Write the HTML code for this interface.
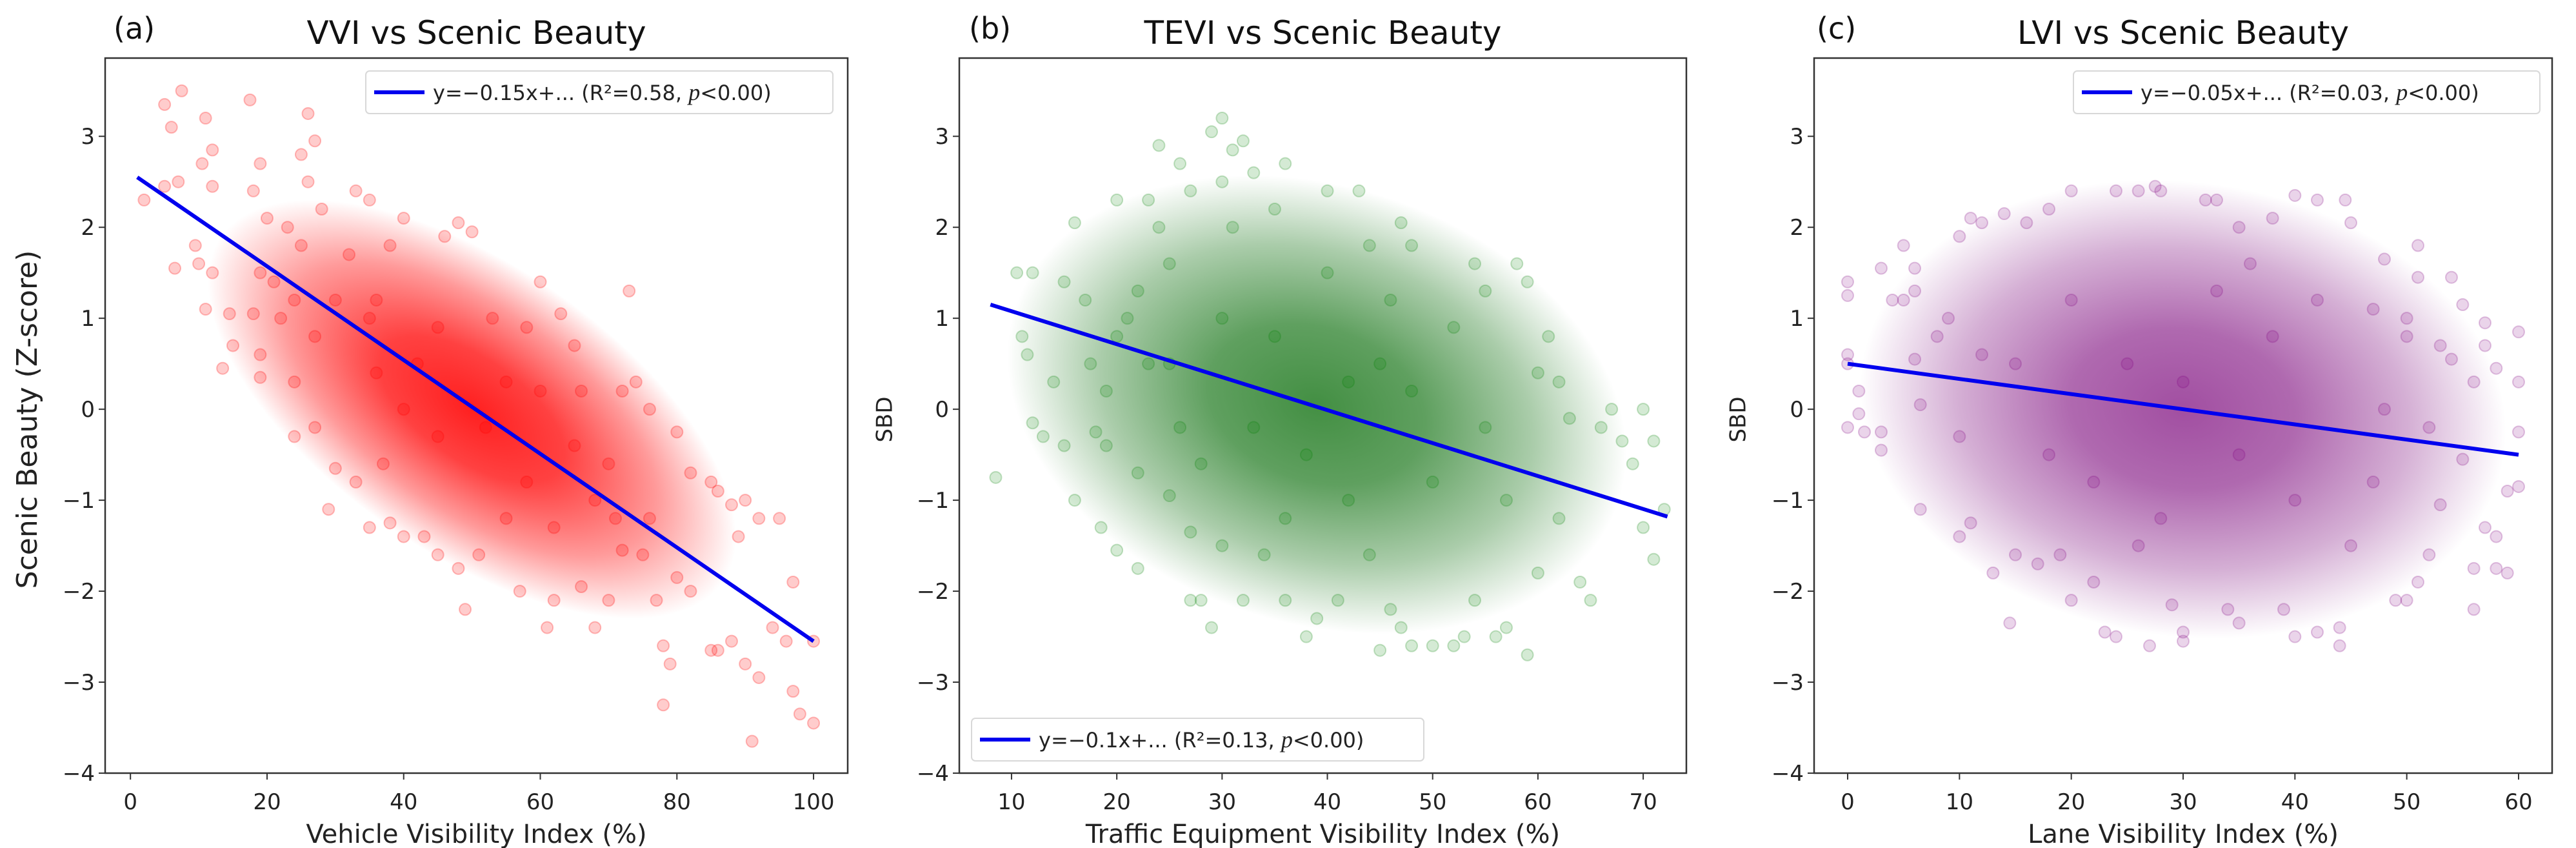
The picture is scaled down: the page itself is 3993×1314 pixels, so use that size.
<!DOCTYPE html>
<html><head><meta charset="utf-8"><style>
body{margin:0;background:#fff;}
svg{display:block;font-family:"DejaVu Sans","Liberation Sans",sans-serif;}
</style></head><body>
<svg id="fig" width="3993" height="1314" viewBox="0 0 3993 1314" xmlns="http://www.w3.org/2000/svg"></svg>
<script>
// ---- data ----
const aX=[2,5,6,7.5,11,12,10.5,5,7,12,6.5,9.5,10,11,12,13.5,14.5,15,17.5,18,19,20,19,18,19,19,21,22,24,25,26,26,27,28,25,23,24,27,24,27,30,29,32,33,35,36,33,35,37,38,40,43,45,49,48,51,50,48,46,40,38,60,63,65,61,62,57,66,73,74,72,76,80,82,85,86,88,90,89,92,95,97,94,96,100,97,98,100,91,78,79,90,92,85,86,88,78,77,80,82,75,72,70,68,55,58,45,42,55,52,35,30,65,68,70,60,40,45,36,62,53,58,66,71,76];
const aY=[2.3,3.35,3.1,3.5,3.2,2.85,2.7,2.45,2.5,2.45,1.55,1.8,1.6,1.1,1.5,0.45,1.05,0.7,3.4,2.4,2.7,2.1,1.5,1.05,0.6,0.35,1.4,1.0,0.3,2.8,3.25,2.5,2.95,2.2,1.8,2.0,1.2,0.8,-0.3,-0.2,-0.65,-1.1,1.7,2.4,2.3,1.2,-0.8,-1.3,-0.6,-1.25,-1.4,-1.4,-1.6,-2.2,-1.75,-1.6,1.95,2.05,1.9,2.1,1.8,1.4,1.05,0.7,-2.4,-2.1,-2.0,-1.95,1.3,0.3,0.2,0.0,-0.25,-0.7,-0.8,-0.9,-1.05,-1.0,-1.4,-1.2,-1.2,-1.9,-2.4,-2.55,-2.55,-3.1,-3.35,-3.45,-3.65,-3.25,-2.8,-2.8,-2.95,-2.65,-2.65,-2.55,-2.6,-2.1,-1.85,-2.0,-1.6,-1.55,-2.1,-2.4,-1.2,-0.8,0.9,0.5,0.3,-0.2,1.0,1.2,-0.4,-1.0,-0.6,0.2,0.0,-0.3,0.4,-1.3,1.0,0.9,0.2,-1.2,-1.2];
const bX=[8.5,10.5,11,11.5,12,13,12,14,15,15,16,16,17,17.5,18,19,18.5,20,20,21,22,22,23,23,24,24,25,25,26,27,27,28,27,29,30,30,31,32,31,29,32,30,33,36,35,34,36,38,39,40,41,43,44,45,46,47,47,48,48,50,52,53,54,54,55,56,57,59,58,59,61,62,63,64,65,66,67,68,70,71,71,72,70,69,60,62,42,40,35,45,38,50,55,25,28,33,44,48,52,57,60,20,22,19,26,30,42,36,46];
const bY=[-0.75,1.5,0.8,0.6,1.5,-0.3,-0.15,0.3,-0.4,1.4,2.05,-1.0,1.2,0.5,-0.25,-0.4,-1.3,2.3,-1.55,1.0,-0.7,-1.75,2.3,0.5,2.0,2.9,-0.95,1.6,2.7,2.4,-2.1,-2.1,-1.35,3.05,3.2,2.5,2.85,2.95,2.0,-2.4,-2.1,-1.5,2.6,2.7,2.2,-1.6,-2.1,-2.5,-2.3,2.4,-2.1,2.4,1.8,-2.65,-2.2,-2.4,2.05,1.8,-2.6,-2.6,-2.6,-2.5,1.6,-2.1,1.3,-2.5,-2.4,-2.7,1.6,1.4,0.8,0.3,-0.1,-1.9,-2.1,-0.2,0.0,-0.35,0.0,-0.35,-1.65,-1.1,-1.3,-0.6,-1.8,-1.2,-1.0,1.5,0.8,0.5,-0.5,-0.8,-0.2,0.5,-0.6,-0.2,-1.6,0.2,0.9,-1.0,0.4,0.8,1.3,0.2,-0.2,1.0,0.3,-1.2,1.2];
const cX=[0,0,0,0,0,1.5,3,3,1,1,3,4,5,5,6,6,6,6.5,6.5,8,9,10,10,11,12,11,13,14,14.5,15,16,17,18,19,20,20,22,23,24,24,26,27,27.5,28,29,30,30,32,33,34,35,35,38,39,40,40,42,42,44,44,44.5,45,47,48,49,50,50,50,51,51,51,52,53,53,54,54,55,56,56,56,57,57,57,58,58,58,59,59,60,60,60,60,55,52,48,47,25,30,35,22,28,38,40,20,33,15,18,42,45,26,36,10,12];
const cY=[1.4,1.25,0.6,0.5,-0.2,-0.25,-0.25,-0.45,0.2,-0.05,1.55,1.2,1.2,1.8,1.55,1.3,0.55,-1.1,0.05,0.8,1.0,1.9,-1.4,2.1,2.05,-1.25,-1.8,2.15,-2.35,-1.6,2.05,-1.7,2.2,-1.6,2.4,-2.1,-1.9,-2.45,2.4,-2.5,2.4,-2.6,2.45,2.4,-2.15,-2.55,-2.45,2.3,2.3,-2.2,-2.35,2.0,2.1,-2.2,2.35,-2.5,2.3,-2.45,-2.4,-2.6,2.3,2.05,1.1,1.65,-2.1,-2.1,0.8,1.0,1.8,1.45,-1.9,-1.6,-1.05,0.7,1.45,0.55,1.15,0.3,-1.75,-2.2,-1.3,0.95,0.7,0.45,-1.4,-1.75,-0.9,-1.8,0.85,0.3,-0.25,-0.85,-0.55,-0.2,0.0,-0.8,0.5,0.3,-0.5,-0.8,-1.2,0.8,-1.0,1.2,1.3,0.5,-0.5,1.2,-1.5,-1.5,1.6,-0.3,0.6];
// dense-cloud summaries: centre x, centre y, x spread, residual spread, opacity
const coreA=[50,0,16,0.8,0.95];
const coreB=[39,0.05,12.5,1.05,0.8];
const coreC=[30,0,12.5,1.05,0.72];
// regression endpoints [x0,y0,x1,y1]
const fitA=[1,2.55,100,-2.55];
const fitB=[8,1.15,72.3,-1.18];
const fitC=[0,0.5,60,-0.5];
const yTicks=[3,2,1,0,-1,-2,-3,-4];
const xTicksA=[0,20,40,60,80,100];
const xTicksB=[10,20,30,40,50,60,70];
const xTicksC=[0,10,20,30,40,50,60];

const NS="http://www.w3.org/2000/svg";
const svg=document.getElementById('fig');
function mk(tag,attrs,parent,text){const e=document.createElementNS(NS,tag);for(const k in attrs)e.setAttribute(k,attrs[k]);if(text!==undefined)e.textContent=text;(parent||svg).appendChild(e);return e;}
const defs=mk('defs',{});

const panels=[
 {id:'a',L:163,R:1314,xmin:-3.7,xmax:105,X:aX,Y:aY,core:coreA,fit:fitA,xt:xTicksA,col:'255,0,0',ccol:'255,20,20',title:'VVI vs Scenic Beauty',xl:'Vehicle Visibility Index (%)',yl:'Scenic Beauty (Z-score)',ylx:45,ylsize:44,tag:'(a)',tagx:176,leg:[567,110,724],legTxt:['y=\u22120.15x+... (R\u00b2=0.58, ','<0.00)'],pt:0.2},
 {id:'b',L:1487,R:2614,xmin:5.04,xmax:74.1,X:bX,Y:bY,core:coreB,fit:fitB,xt:xTicksB,col:'0,128,0',ccol:'20,115,20',title:'TEVI vs Scenic Beauty',xl:'Traffic Equipment Visibility Index (%)',yl:'SBD',ylx:1373,ylsize:34,tag:'(b)',tagx:1502,leg:[1506,1113,701],legTxt:['y=\u22120.1x+... (R\u00b2=0.13, ','<0.00)'],pt:0.17},
 {id:'c',L:2812,R:3956,xmin:-3.0,xmax:63,X:cX,Y:cY,core:coreC,fit:fitC,xt:xTicksC,col:'128,0,128',ccol:'125,10,125',title:'LVI vs Scenic Beauty',xl:'Lane Visibility Index (%)',yl:'SBD',ylx:2696,ylsize:34,tag:'(c)',tagx:2816,leg:[3214,110,723],legTxt:['y=\u22120.05x+... (R\u00b2=0.03, ','<0.00)'],pt:0.17}
];
const T=90,B=1198,ymin=-4,ymax=3.86;
panels.forEach(p=>{
 const g=mk('g',{});
 
 
 const sx=v=>p.L+(v-p.xmin)/(p.xmax-p.xmin)*(p.R-p.L);
 const sy=v=>B-(v-ymin)/(ymax-ymin)*(B-T);
 const kx=(p.R-p.L)/(p.xmax-p.xmin), ky=(B-T)/(ymax-ymin);
 const clip=mk('clipPath',{id:'clip'+p.id},defs);
 mk('rect',{x:p.L,y:T,width:p.R-p.L,height:B-T},clip);
 const plot=mk('g',{'clip-path':'url(#clip'+p.id+')'},g);
 const c=p.core, slope=(p.fit[3]-p.fit[1])/(p.fit[2]-p.fit[0]);
 const ang=Math.atan(-slope*ky/kx);
 const gr=mk('radialGradient',{id:'gr'+p.id},defs);
 mk('stop',{offset:'0','stop-color':'rgb('+p.ccol+')','stop-opacity':c[4]},gr);
 mk('stop',{offset:'0.35','stop-color':'rgb('+p.ccol+')','stop-opacity':c[4]*0.85},gr);
 mk('stop',{offset:'0.7','stop-color':'rgb('+p.ccol+')','stop-opacity':c[4]*0.45},gr);
 mk('stop',{offset:'1','stop-color':'rgb('+p.ccol+')','stop-opacity':0},gr);
 const cx=sx(c[0]),cy=sy(c[1]);
 const el=mk('ellipse',{cx:cx,cy:cy,rx:2.3*c[2]*kx/Math.cos(ang),ry:2.4*c[3]*ky*Math.cos(ang),fill:'url(#gr'+p.id+')',transform:'rotate('+(ang*180/Math.PI)+' '+cx+' '+cy+')'},plot);
 
 
 for(let i=0;i<p.X.length;i++){
  const pt=mk('circle',{cx:sx(p.X[i]),cy:sy(p.Y[i]),r:9,fill:'rgba('+p.col+','+p.pt+')',stroke:'rgba('+p.col+','+(p.pt+0.05)+')','stroke-width':2},plot);
  
  
 }
 const ln=mk('line',{x1:sx(p.fit[0]),y1:sy(p.fit[1]),x2:sx(p.fit[2]),y2:sy(p.fit[3]),stroke:'#0000ee','stroke-width':6},plot);
 
 
 const fr=mk('rect',{x:p.L,y:T,width:p.R-p.L,height:B-T,fill:'none',stroke:'#333','stroke-width':2.5},g);
 
 
 yTicks.forEach(t=>{
  mk('line',{x1:p.L-10,x2:p.L,y1:sy(t),y2:sy(t),stroke:'#333','stroke-width':2},g);
  const tl=mk('text',{x:p.L-16,y:sy(t)+12,'text-anchor':'end','font-size':34,fill:'#222'},g,t<0?'\u2212'+(-t):String(t));
  
  
 });
 p.xt.forEach(t=>{
  mk('line',{x1:sx(t),x2:sx(t),y1:B,y2:B+10,stroke:'#333','stroke-width':2},g);
  const tl=mk('text',{x:sx(t),y:B+56,'text-anchor':'middle','font-size':34,fill:'#222'},g,String(t));
  
  
 });
 const xl=mk('text',{x:(p.L+p.R)/2,y:1306,'text-anchor':'middle','font-size':40,fill:'#222'},g,p.xl);
 
 
 const yl=mk('text',{x:p.ylx,y:650,'text-anchor':'middle','font-size':p.ylsize,fill:'#222',transform:'rotate(-90 '+p.ylx+' 650)','dominant-baseline':'middle'},g,p.yl);
 
 
 const ti=mk('text',{x:(p.L+p.R)/2,y:68,'text-anchor':'middle','font-size':50,fill:'#111'},g,p.title);
 
 
 const tg=mk('text',{x:p.tagx,y:60,'font-size':46,fill:'#111'},g,p.tag);
 
 
 const lg=mk('g',{},g);
 
 
 const [lx,ly,lw]=p.leg;
 mk('rect',{x:lx,y:ly,width:lw,height:66,rx:6,fill:'rgba(255,255,255,0.85)',stroke:'#d8d8d8','stroke-width':2},lg);
 mk('line',{x1:lx+13,x2:lx+91,y1:ly+33,y2:ly+33,stroke:'#0000ee','stroke-width':6},lg);
 const lt=mk('text',{x:lx+104,y:ly+45,'font-size':32,fill:'#222'},lg);
 
 
 mk('tspan',{},lt,p.legTxt[0]);
 mk('tspan',{'font-style':'italic','font-family':'Liberation Serif, serif','font-size':36},lt,'p');
 mk('tspan',{},lt,p.legTxt[1]);
});
</script>
</body></html>
